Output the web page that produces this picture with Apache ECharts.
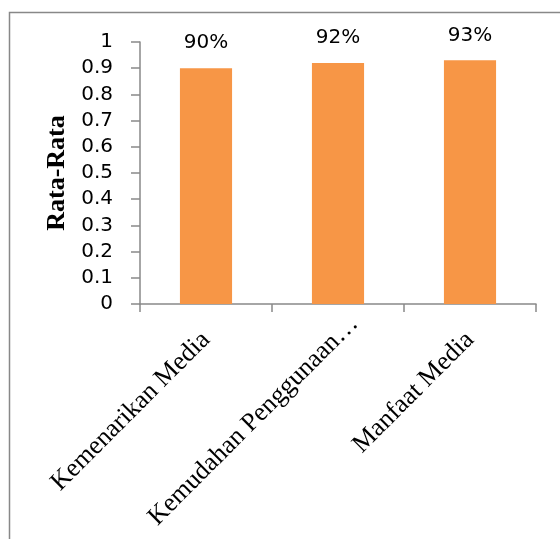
<!DOCTYPE html>
<html>
<head>
<meta charset="utf-8">
<script src="https://cdn.jsdelivr.net/npm/echarts@6/dist/echarts.min.js"></script>
<style>
html,body{margin:0;padding:0;background:#fff;}
#c{width:560px;height:539px;}
</style>
</head>
<body>
<div id="c"></div>
<script>
const categories = ["Kemenarikan Media", "Kemudahan Penggunaan…", "Manfaat Media"];
const values = [0.90, 0.92, 0.93];
const yTitle = "Rata-Rata";

const categoryItems = categories.map((c, i) => i === 1
  ? {value: c, textStyle: {padding: [10, -23, 0, 0]}}
  : c);

const chart = echarts.init(document.getElementById('c'), null, {renderer: 'canvas'});
chart.setOption({
  animation: false,
  backgroundColor: '#fff',
  graphic: [{
    type: 'rect',
    shape: {x: 9.5, y: 12.5, width: 600, height: 600},
    style: {fill: 'none', stroke: '#888', lineWidth: 1.5},
    silent: true
  }],
  grid: {left: 140, top: 42, right: 24, bottom: 235},
  xAxis: {
    type: 'category',
    data: categoryItems,
    axisLine: {lineStyle: {color: '#898989', width: 1.5}},
    axisTick: {show: true, length: 8, lineStyle: {color: '#898989', width: 1.5}},
    axisLabel: {
      rotate: 45,
      margin: 32,
      verticalAlign: 'middle',
      color: '#000',
      fontFamily: 'Liberation Serif',
      fontSize: 26,
      interval: 0
    }
  },
  yAxis: {
    type: 'value',
    min: 0, max: 1, interval: 0.1,
    name: yTitle,
    nameLocation: 'middle',
    nameRotate: 90,
    nameGap: 61,
    nameTextStyle: {fontFamily: 'Liberation Serif', fontWeight: 'bold', fontSize: 26, color: '#000'},
    axisLine: {show: true, lineStyle: {color: '#898989', width: 1.5}},
    axisTick: {show: true, length: 9, lineStyle: {color: '#898989', width: 1.5}},
    splitLine: {show: false},
    axisLabel: {margin: 27, color: '#000', fontFamily: 'DejaVu Sans', fontSize: 20}
  },
  series: [{
    type: 'bar',
    data: values,
    barWidth: '39.5%',
    itemStyle: {color: '#F79646'},
    label: {
      show: true,
      position: 'top',
      distance: 15,
      color: '#000',
      fontFamily: 'DejaVu Sans',
      fontSize: 20,
      formatter: p => Math.round(p.value * 100) + '%'
    }
  }]
});
</script>
</body>
</html>
